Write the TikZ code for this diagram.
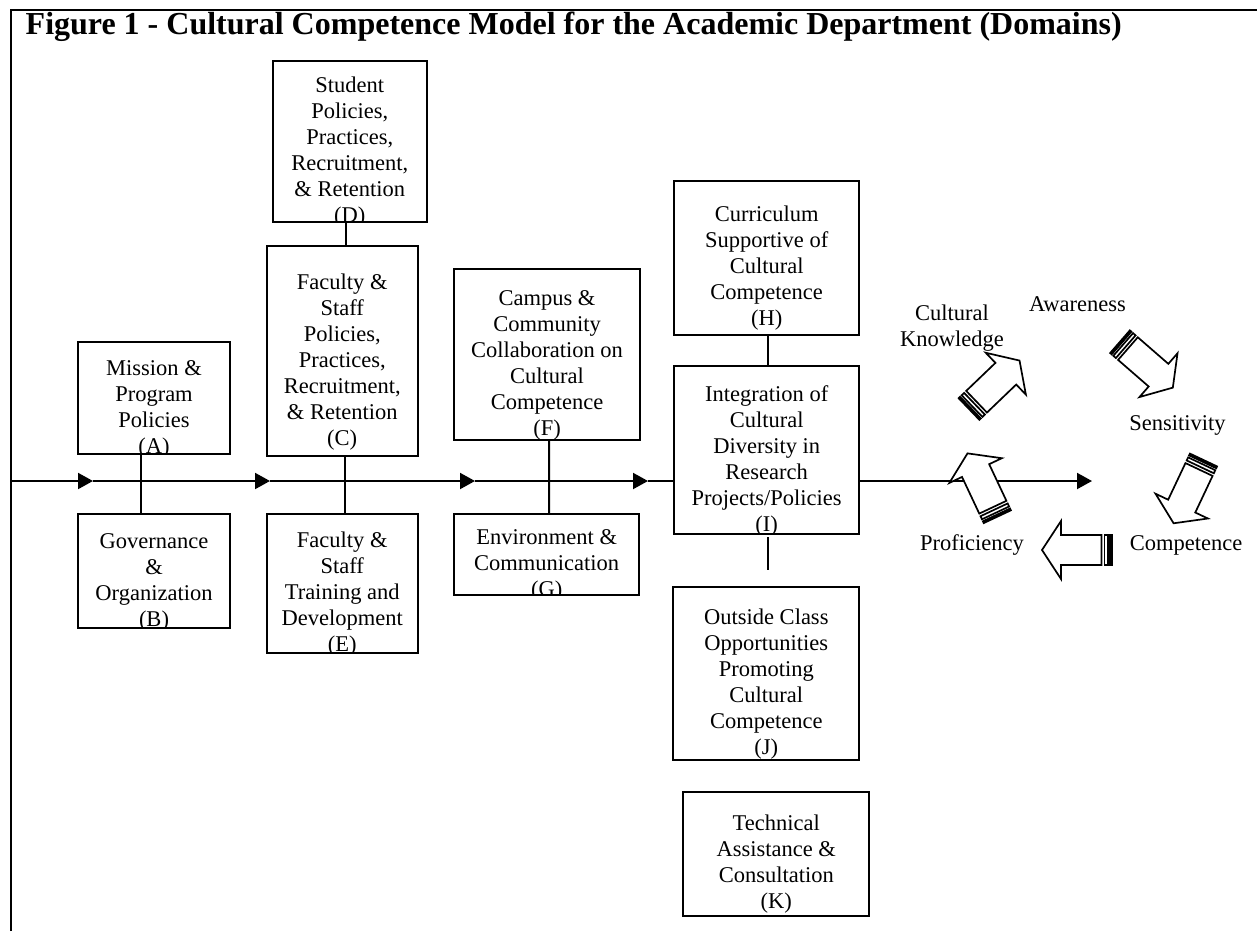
\documentclass[tikz,border=0pt]{standalone}
\usepackage{fontspec}
\setmainfont{Liberation Serif}
\usetikzlibrary{arrows.meta}
\tikzset{
  every node/.style={inner sep=0pt, outer sep=0pt},
  txt/.style={font=\fontsize{11.25}{13}\selectfont, align=center},
  box/.style={draw, line width=1pt, fill=white,
    path picture={\node[txt, draw=none, fill=none, anchor=north] at ([yshift=-4.65pt]path picture bounding box.north) {\strut #1};}},
  conn/.style={line width=1pt},
  flow/.style={line width=1pt, -{Triangle[length=7.5pt,width=8pt]}},
  barrow/.style={draw, fill=white, line width=0.85pt},
  stripe/.style={draw, fill=white, line width=0.85pt},
  blockarrow/.pic={
    \path[stripe] (0,-15) rectangle (2,15);
    \path[stripe] (4.2,-15) rectangle (7.6,15);
    \path[barrow] (10.5,-15) -- (51,-15) -- (51,-29) -- (70,0) -- (51,29) -- (51,15) -- (10.5,15) -- cycle;
  }
}
\begin{document}
\begin{tikzpicture}[x=0.5pt,y=-0.5pt]
\useasboundingbox (0,0) rectangle (1257,931);
% frame
\draw[line width=1pt] (11,931) -- (11,10) -- (1257,10);
% title
\node[font=\fontsize{16}{19}\selectfont\bfseries, anchor=base west] (title) at (25.7,35)
  {Figure 1 - Cultural Competence Model for the Academic Department (Domains)};
% boxes
\node[box={Mission \&\\Program\\Policies\\(A)}, minimum width=76pt, minimum height=56.3pt] (A) at (154,398) {};
\node[box={Governance\\\&\\Organization\\(B)}, minimum width=76pt, minimum height=57.2pt] (B) at (154,571.2) {};
\node[box={Student\\Policies,\\Practices,\\Recruitment,\\\& Retention\\(D)}, minimum width=77pt, minimum height=80.4pt] (D) at (349.7,141.3) {};
\node[box={Faculty \&\\Staff\\Policies,\\Practices,\\Recruitment,\\\& Retention\\(C)}, minimum width=75.5pt, minimum height=105pt] (C) at (342.2,351) {};
\node[box={Faculty \&\\Staff\\Training and\\Development\\(E)}, minimum width=75.5pt, minimum height=69.7pt] (E) at (342.2,583.7) {};
\node[box={Campus \&\\Community\\Collaboration on\\Cultural\\Competence\\(F)}, minimum width=93pt, minimum height=85.4pt] (F) at (547,354.7) {};
\node[box={Environment \&\\Communication\\(G)}, minimum width=92.7pt, minimum height=40.5pt] (G) at (546.7,554.5) {};
\node[box={Curriculum\\Supportive of\\Cultural\\Competence\\(H)}, minimum width=92.7pt, minimum height=77.2pt] (H) at (766.7,257.8) {};
\node[box={Integration of\\Cultural\\Diversity in\\Research\\Projects/Policies\\(I)}, minimum width=92.7pt, minimum height=84pt] (I) at (766.7,450) {};
\node[box={Outside Class\\Opportunities\\Promoting\\Cultural\\Competence\\(J)}, minimum width=93pt, minimum height=86.7pt] (J) at (766.3,673.3) {};
\node[box={Technical\\Assistance \&\\Consultation\\(K)}, minimum width=93pt, minimum height=62.2pt] (K) at (776.3,853.8) {};
% main flow line
\coordinate (p0) at (11,481);
\coordinate (p1) at (93,481);
\coordinate (p2) at (270,481);
\coordinate (p3) at (475,481);
\coordinate (p4) at (648,481);
\coordinate (p5) at (1092,481);
\coordinate (Iend) at (767.7,570);
\draw[flow] (p0) -- (p1);
\draw[flow] (p1) -- (p2);
\draw[flow] (p2) -- (p3);
\draw[flow] (p3) -- (p4);
\draw[conn] (p4) -- (p4 -| I.west);
\draw[flow] (p4 -| I.east) -- (p5);
% vertical connectors
\draw[conn] ([xshift=-6.5pt]A.south) -- ([xshift=-6.5pt]B.north);
\draw[conn] ([xshift=-2pt]D.south) -- ([xshift=1.75pt]C.north);
\draw[conn] ([xshift=1.4pt]C.south) -- ([xshift=1.4pt]E.north);
\draw[conn] ([xshift=1pt]F.south) -- ([xshift=1.15pt]G.north);
\draw[conn] ([xshift=0.5pt]H.south) -- ([xshift=0.5pt]I.north);
\draw[conn] ([xshift=0.5pt,yshift=-1.5pt]I.south) -- (Iend);
% cycle labels
\node[txt, anchor=north] (lblCK) at (952,301.8) {\strut Cultural\\Knowledge};
\node[txt, anchor=base] (lblAw) at (1077.5,311.7) {Awareness};
\node[txt, anchor=base] (lblSe) at (1177.5,430) {Sensitivity};
\node[txt, anchor=base] (lblCo) at (1186,550) {Competence};
\node[txt, anchor=base] (lblPr) at (972,550) {Proficiency};
% block arrows
\pic[rotate=43.8] (arrCK) at (969,409) {blockarrow};
\pic[rotate=-41] (arrAw) at (1120,341.7) {blockarrow};
\pic[rotate=-115.3] (arrSe) at (1203.5,460) {blockarrow};
\pic[rotate=180] (arrCo) at (1112,550) {blockarrow};
\pic[rotate=115.2] (arrPr) at (997.3,516.7) {blockarrow};
\end{tikzpicture}
\end{document}
